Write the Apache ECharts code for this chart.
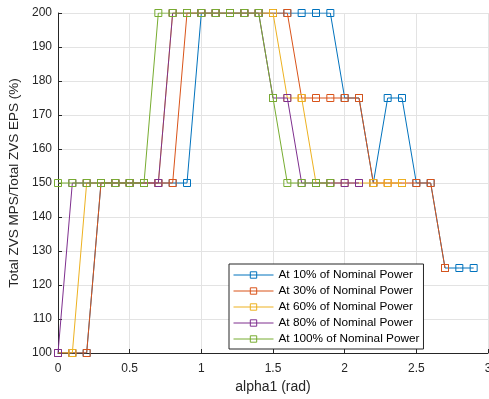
<!DOCTYPE html>
<html>
<head>
<meta charset="utf-8">
<script src="https://cdn.jsdelivr.net/npm/echarts@6/dist/echarts.min.js"></script>
<style>
  html, body { margin: 0; padding: 0; background: #fff; }
  #chart { width: 489px; height: 399px; }
</style>
</head>
<body>
<div id="chart"></div>
<script>
// alpha1 sample points (rad)
const alphaValues = [0, 0.1, 0.2, 0.3, 0.4, 0.5, 0.6, 0.7, 0.8, 0.9,
  1.0, 1.1, 1.2, 1.3, 1.4, 1.5, 1.6, 1.7, 1.8, 1.9,
  2.0, 2.1, 2.2, 2.3, 2.4, 2.5, 2.6, 2.7, 2.8, 2.9];

const seriesNames = [
  "At 10% of Nominal Power",
  "At 30% of Nominal Power",
  "At 60% of Nominal Power",
  "At 80% of Nominal Power",
  "At 100% of Nominal Power",
];

const power10 = [100, 100, 100, 150, 150, 150, 150, 150, 150, 150,
  200, 200, 200, 200, 200, 200, 200, 200, 200, 200,
  175, 175, 150, 175, 175, 150, 150, 125, 125, 125];
const power30 = [100, 100, 100, 150, 150, 150, 150, 150, 150, 200,
  200, 200, 200, 200, 200, 200, 200, 175, 175, 175,
  175, 175, 150, 150, 150, 150, 150, 125, null, null];
const power60 = [100, 100, 150, 150, 150, 150, 150, 150, 200, 200,
  200, 200, 200, 200, 200, 200, 175, 175, 150, 150,
  150, 150, 150, 150, 150, null, null, null, null, null];
const power80 = [100, 150, 150, 150, 150, 150, 150, 150, 200, 200,
  200, 200, 200, 200, 200, 175, 175, 150, 150, 150,
  150, 150, null, null, null, null, null, null, null, null];
const power100 = [150, 150, 150, 150, 150, 150, 150, 200, 200, 200,
  200, 200, 200, 200, 200, 175, 150, 150, 150, 150,
  null, null, null, null, null, null, null, null, null, null];

const xTicks = [0, 0.5, 1, 1.5, 2, 2.5, 3];
const yTicks = [100, 110, 120, 130, 140, 150, 160, 170, 180, 190, 200];

const seriesValues = [power10, power30, power60, power80, power100];
const colors = ["#0072BD", "#D95319", "#EDB120", "#7E2F8E", "#77AC30"];

const fontFamily = "'Liberation Sans', Arial, sans-serif";
const axisColor = "#262626";
const gridColor = "#e3e3e3";

const chart = echarts.init(document.getElementById("chart"), null, { renderer: "canvas" });

chart.setOption({
  animation: false,
  backgroundColor: "#fff",
  grid: { left: 58, right: 1, top: 13, bottom: 46, outerBoundsMode: "none", containLabel: false },
  legend: {
    orient: "vertical",
    left: 229,
    top: 264,
    padding: [5, 4, 4, 4],
    itemWidth: 40,
    itemHeight: 8,
    itemGap: 4,
    borderColor: axisColor,
    borderWidth: 1,
    borderRadius: 0,
    backgroundColor: "#fff",
    lineStyle: { width: 1 },
    itemStyle: { borderWidth: 1 },
    textStyle: { fontFamily, fontSize: 11.8, color: "#000" },
    data: seriesNames,
  },
  xAxis: {
    type: "value",
    min: 0,
    max: 3,
    interval: 0.5,
    name: "alpha1 (rad)",
    nameLocation: "middle",
    nameGap: 27,
    nameTextStyle: { fontFamily, fontSize: 14, color: axisColor },
    axisLine: { show: true, lineStyle: { color: axisColor, width: 1 } },
    axisTick: { show: true, inside: true, length: 4, lineStyle: { color: axisColor } },
    axisLabel: {
      fontFamily, fontSize: 12, color: axisColor, margin: 10,
      formatter: (v) => (xTicks.includes(v) ? String(v) : ""),
    },
    splitLine: { show: true, lineStyle: { color: gridColor, width: 1 } },
  },
  yAxis: {
    type: "value",
    min: 100,
    max: 200,
    interval: 10,
    name: "Total ZVS MPS/Total ZVS EPS (%)",
    nameLocation: "middle",
    nameGap: 33,
    nameTextStyle: { fontFamily, fontSize: 13.5, color: axisColor },
    axisLine: { show: true, lineStyle: { color: axisColor, width: 1 } },
    axisTick: { show: true, inside: true, length: 4, lineStyle: { color: axisColor } },
    axisLabel: {
      fontFamily, fontSize: 12, color: axisColor, margin: 6,
      formatter: (v) => (yTicks.includes(v) ? String(v) : ""),
    },
    splitLine: { show: true, lineStyle: { color: gridColor, width: 1 } },
  },
  series: seriesValues.map((values, i) => ({
    name: seriesNames[i],
    type: "line",
    data: values.map((v, j) => [alphaValues[j], v]),
    connectNulls: false,
    symbol: "rect",
    symbolSize: 7,
    showAllSymbol: true,
    lineStyle: { color: colors[i], width: 1 },
    itemStyle: { color: "transparent", borderColor: colors[i], borderWidth: 1 },
    emphasis: { disabled: true },
    z: 2 + i,
  })),
});
</script>
</body>
</html>
